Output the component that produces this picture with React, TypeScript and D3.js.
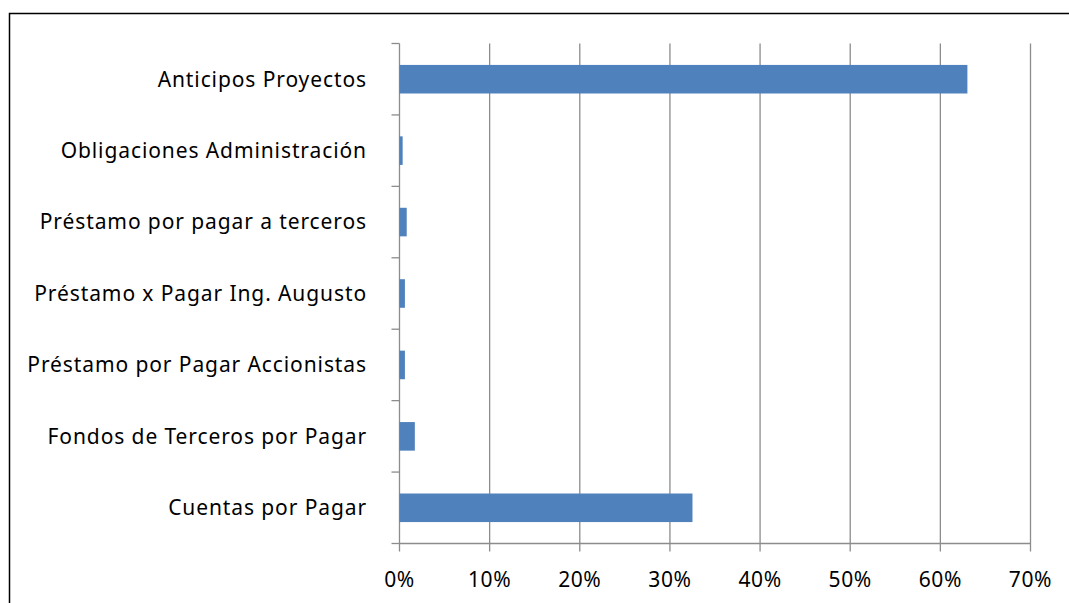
import React from "react";
import * as d3 from "d3";

const categories = [
  "Anticipos Proyectos",
  "Obligaciones Administración",
  "Préstamo por pagar a terceros",
  "Préstamo x Pagar Ing. Augusto",
  "Préstamo por Pagar Accionistas",
  "Fondos de Terceros por Pagar",
  "Cuentas por Pagar",
];
const values = [0.63, 0.0035, 0.008, 0.006, 0.006, 0.017, 0.325];
const xTicks = [0, 0.1, 0.2, 0.3, 0.4, 0.5, 0.6, 0.7];

export default function App() {
  const W = 1069, H = 603;
  const left = 399.5, right = 1030.5, top = 43.5, bottom = 543.5;
  const x = d3.scaleLinear().domain([0, 0.7]).range([left, right]);
  const y = d3.scaleBand<string>().domain(categories).range([top, bottom]).paddingInner(0.6).paddingOuter(0.3);
  const step = (bottom - top) / categories.length;
  const font = "'Noto Sans', 'Open Sans', sans-serif";
  const fmt = d3.format(".0%");
  return (
    <div style={{ position: "fixed", left: 0, top: 0 }}>
      <svg width={W} height={H} style={{ display: "block", background: "#fff" }}>
        <rect x={9.5} y={13.5} width={W + 20} height={H + 20} fill="#fff" stroke="#000" strokeWidth={1.5} />
        {xTicks.map((t) => (
          <line key={"g" + t} x1={x(t)} x2={x(t)} y1={top} y2={bottom + 8} stroke="#8c8c8c" strokeWidth={1.3} />
        ))}
        <line x1={left} x2={right} y1={bottom} y2={bottom} stroke="#8c8c8c" strokeWidth={1.3} />
        {d3.range(categories.length + 1).map((i) => (
          <line key={"yt" + i} x1={left - 8} x2={left} y1={top + i * step} y2={top + i * step} stroke="#8c8c8c" strokeWidth={1.3} />
        ))}
        {categories.map((c, i) => (
          <rect key={c} x={x(0)} y={y(c)} width={x(values[i]) - x(0)} height={y.bandwidth()} fill="#4f81bd" />
        ))}
        {categories.map((c) => (
          <text key={"l" + c} x={367} y={(y(c) as number) + y.bandwidth() / 2} dy="0.35em" textAnchor="end" fontFamily={font} fontSize={21} letterSpacing={0.9} fill="#000">
            {c}
          </text>
        ))}
        {xTicks.map((t) => (
          <text key={"t" + t} x={x(t)} y={580} dy="0.35em" textAnchor="middle" fontFamily={font} fontSize={21} letterSpacing={0.6} fill="#000">
            {fmt(t)}
          </text>
        ))}
      </svg>
    </div>
  );
}
